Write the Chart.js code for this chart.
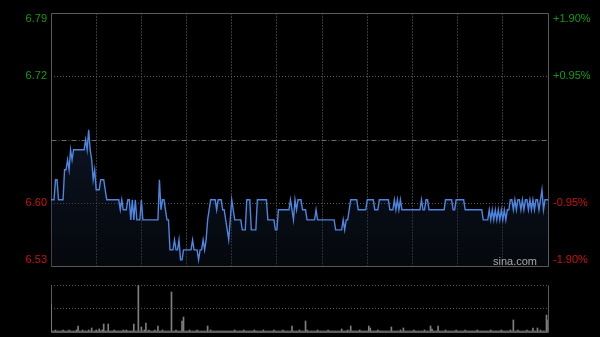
<!DOCTYPE html>
<html>
<head>
<meta charset="utf-8">
<script src="https://cdn.jsdelivr.net/npm/chart.js@4.4.0/dist/chart.umd.min.js"></script>
<style>
html, body { margin: 0; padding: 0; background: #000; }
#wrap { position: relative; width: 600px; height: 337px; background: #000; overflow: hidden; }
#priceBox { position: absolute; left: 0; top: 0; width: 600px; height: 278px; }
#volBox { position: absolute; left: 0; top: 275px; width: 600px; height: 62px; }
</style>
</head>
<body>
<div id="wrap">
  <div id="priceBox"><canvas id="priceChart"></canvas></div>
  <div id="volBox"><canvas id="volChart"></canvas></div>
</div>
<script>
// intraday minute data, HK session 09:30-12:00 / 13:01-16:00
const prevClose = 6.66;
const priceMin = 6.5335;
const priceMax = 6.7865;
const leftTickLabels = ['6.53', '6.60', '6.72', '6.79'];
const rightTickLabels = ['-1.90%', '-0.95%', '+0.95%', '+1.90%'];

const price = [
  6.60,6.60,6.60,6.62,6.62,6.60,6.60,6.60,6.60,6.63,
  6.63,6.64,6.63,6.65,6.64,6.65,6.65,6.65,6.65,6.65,
  6.65,6.65,6.65,6.66,6.65,6.67,6.65,6.64,6.62,6.63,
  6.61,6.61,6.61,6.62,6.62,6.62,6.61,6.60,6.60,6.60,
  6.60,6.60,6.60,6.60,6.60,6.60,6.59,6.60,6.59,6.59,
  6.59,6.60,6.60,6.58,6.60,6.58,6.60,6.58,6.58,6.58,
  6.60,6.58,6.58,6.58,6.58,6.58,6.58,6.58,6.58,6.58,
  6.58,6.58,6.62,6.59,6.60,6.60,6.59,6.58,6.58,6.55,
  6.55,6.55,6.56,6.55,6.55,6.56,6.54,6.54,6.55,6.55,
  6.55,6.55,6.55,6.55,6.56,6.55,6.55,6.55,6.54,6.55,
  6.55,6.56,6.55,6.56,6.58,6.59,6.60,6.60,6.60,6.60,
  6.59,6.60,6.60,6.60,6.59,6.59,6.58,6.57,6.56,6.58,
  6.60,6.59,6.58,6.58,6.58,6.58,6.58,6.57,6.57,6.57,
  6.60,6.60,6.60,6.57,6.57,6.57,6.57,6.60,6.60,6.60,
  6.60,6.60,6.60,6.60,6.58,6.58,6.58,6.58,6.58,6.57,
  6.57,6.59,6.59,6.59,6.59,6.59,6.59,6.59,6.59,6.60,
  6.59,6.58,6.60,6.59,6.60,6.60,6.60,6.59,6.59,6.59,
  6.58,6.58,6.58,6.58,6.58,6.58,6.59,6.58,6.58,6.58,
  6.58,6.58,6.58,6.58,6.58,6.58,6.58,6.58,6.58,6.57,
  6.57,6.57,6.57,6.57,6.58,6.57,6.58,6.58,6.59,6.60,
  6.60,6.60,6.60,6.60,6.59,6.59,6.59,6.59,6.59,6.59,
  6.60,6.60,6.60,6.60,6.60,6.59,6.59,6.59,6.60,6.60,
  6.60,6.60,6.60,6.60,6.60,6.59,6.59,6.59,6.60,6.59,
  6.60,6.59,6.60,6.59,6.59,6.59,6.59,6.59,6.59,6.59,
  6.59,6.59,6.59,6.59,6.59,6.59,6.60,6.59,6.59,6.60,
  6.60,6.59,6.59,6.59,6.59,6.59,6.59,6.59,6.59,6.59,
  6.59,6.59,6.60,6.60,6.60,6.60,6.60,6.59,6.59,6.60,
  6.60,6.60,6.60,6.60,6.60,6.59,6.59,6.59,6.59,6.59,
  6.59,6.59,6.59,6.59,6.59,6.59,6.59,6.58,6.58,6.58,
  6.58,6.59,6.58,6.59,6.58,6.59,6.58,6.59,6.58,6.59,
  6.58,6.59,6.58,6.59,6.59,6.60,6.60,6.59,6.60,6.59,
  6.60,6.60,6.59,6.60,6.59,6.60,6.60,6.59,6.60,6.59,
  6.60,6.59,6.60,6.60,6.59,6.60,6.61,6.59,6.60,6.60,
  6.60
];

// volume, 10k shares
const volume = [
  28,1,1,2,1,1,1,1,2,1,
  1,1,2,1,1,1,1,2,6,1,
  1,2,1,1,1,2,1,4,1,1,
  2,1,3,1,2,8,1,1,8,1,
  1,1,2,1,1,1,1,1,2,1,
  2,1,1,1,1,8,1,1,50,1,
  5,1,2,9,1,2,1,1,1,2,
  1,6,1,1,2,1,1,1,1,1,
  40,1,1,2,1,1,1,11,15,1,
  1,1,2,1,1,1,1,2,1,1,
  1,1,1,1,6,1,2,1,1,1,
  1,1,1,1,1,1,1,1,1,1,
  1,1,2,1,1,1,1,1,2,1,
  1,1,1,1,1,2,1,1,1,1,
  1,2,1,1,1,1,1,1,2,1,
  1,1,1,1,2,1,1,1,1,1,
  6,1,1,1,1,2,1,1,1,11,
  2,1,1,1,1,1,1,2,1,1,
  1,1,1,1,2,1,1,1,1,1,
  1,1,1,3,1,1,1,2,1,6,
  1,1,1,1,1,2,1,1,1,1,
  1,6,4,1,1,1,1,2,1,1,
  1,1,1,1,1,1,5,1,1,1,
  1,1,2,1,4,1,1,1,1,1,
  1,2,1,1,1,1,1,1,2,1,
  1,1,6,3,1,1,1,6,1,1,
  1,1,2,1,1,1,1,1,1,2,
  1,1,1,1,1,2,1,1,1,1,
  1,1,1,2,1,1,1,1,1,1,
  1,1,2,1,1,1,1,1,1,2,
  1,1,1,1,1,2,1,12,1,1,
  2,1,1,1,1,1,2,1,1,1,
  4,1,1,4,1,2,1,1,1,17,
  12
];
const volMax = 47;

// minute labels
const times = [];
function pushRange(h0, m0, h1, m1) {
  for (let t = h0 * 60 + m0; t <= h1 * 60 + m1; t++) {
    const h = Math.floor(t / 60), m = t % 60;
    times.push(String(h).padStart(2, '0') + ':' + String(m).padStart(2, '0'));
  }
}
pushRange(9, 30, 12, 0);
pushRange(13, 1, 16, 0);

const green = '#159a15';
const red = '#cc1212';
const font = { family: 'Liberation Sans, Arial, sans-serif', size: 11 };

const framePlugin = {
  id: 'frame',
  beforeDatasetsDraw(chart, args, opts) {
    const { ctx, chartArea: a } = chart;
    const l = Math.round(a.left) + 0.5, r = Math.round(a.right) + 0.5;
    const t = Math.round(a.top) + 0.5, b = Math.round(a.bottom) + 0.5;
    ctx.save();
    ctx.strokeStyle = opts.color;
    ctx.lineWidth = 1;
    ctx.beginPath();
    if (opts.top) { ctx.moveTo(l, t); ctx.lineTo(r, t); }
    ctx.moveTo(l, t); ctx.lineTo(l, b);
    ctx.moveTo(r, t); ctx.lineTo(r, b);
    ctx.moveTo(l, b); ctx.lineTo(r, b);
    ctx.stroke();
    if (opts.refLine) {
      const y = Math.round(chart.scales.y.getPixelForValue(prevClose)) + 0.5;
      ctx.setLineDash([5, 2, 1, 2]);
      ctx.strokeStyle = '#6a6a6a';
      ctx.beginPath();
      ctx.moveTo(l, y); ctx.lineTo(r, y);
      ctx.stroke();
    }
    ctx.restore();
  },
  afterDatasetsDraw(chart, args, opts) {
    if (!opts.brand) return;
    const { ctx, chartArea: a } = chart;
    ctx.save();
    ctx.fillStyle = '#a8a8a8';
    ctx.font = '11px "Liberation Sans", Arial, sans-serif';
    ctx.textAlign = 'right';
    ctx.textBaseline = 'middle';
    ctx.fillText(opts.brand, a.right - 11, a.bottom - 4);
    ctx.restore();
  }
};

function priceTicks(scale) {
  const q = (priceMax - prevClose) / 2;
  const inset = 0.006;
  scale.ticks = [priceMin + inset, prevClose - q, prevClose + q, priceMax - inset].map(v => ({ value: v }));
}

const gridIdx = [30, 60, 90, 120, 150, 180, 210, 240, 270, 300];

new Chart(document.getElementById('priceChart'), {
  type: 'line',
  data: {
    labels: times,
    datasets: [{
      data: price,
      borderColor: '#4d86e0',
      borderWidth: 1.4,
      pointRadius: 0,
      tension: 0,
      fill: 'start',
      backgroundColor: (c) => {
        const { ctx, chartArea } = c.chart;
        if (!chartArea) return 'rgba(0,0,0,0)';
        const g = ctx.createLinearGradient(0, chartArea.top + 110, 0, chartArea.bottom);
        g.addColorStop(0, 'rgba(28,48,80,0.45)');
        g.addColorStop(1, 'rgba(14,22,36,0.35)');
        return g;
      }
    }]
  },
  options: {
    responsive: true,
    maintainAspectRatio: false,
    animation: false,
    layout: { padding: { top: 13, bottom: 6, left: 0, right: 0 } },
    plugins: {
      legend: { display: false },
      tooltip: { enabled: false },
      frame: { color: '#5a5a5a', top: true, refLine: true, brand: 'sina.com' }
    },
    scales: {
      x: {
        type: 'category',
        offset: false,
        afterBuildTicks: (s) => { s.ticks = gridIdx.map(v => ({ value: v })); },
        afterFit: (s) => { s.height = 0; },
        ticks: { display: false },
        grid: { color: '#3a3a3a', lineWidth: 1, drawTicks: false },
        border: { display: false, dash: [2, 1] }
      },
      y: {
        position: 'left',
        min: priceMin,
        max: priceMax,
        afterBuildTicks: priceTicks,
        afterFit: (s) => { s.width = 51; },
        ticks: {
          padding: 4,
          font: font,
          color: (c) => c.index < 2 ? red : green,
          callback: (v, i) => leftTickLabels[i]
        },
        grid: {
          drawTicks: false,
          color: (c) => (c.index === 1 || c.index === 2) ? '#5a5a5a' : 'rgba(0,0,0,0)'
        },
        border: { display: false, dash: [1, 2] }
      },
      y2: {
        position: 'right',
        min: priceMin,
        max: priceMax,
        afterBuildTicks: priceTicks,
        afterFit: (s) => { s.width = 52; },
        ticks: {
          padding: 5,
          font: font,
          color: (c) => c.index < 2 ? red : green,
          callback: (v, i) => rightTickLabels[i]
        },
        grid: { display: false, drawTicks: false },
        border: { display: false }
      }
    }
  },
  plugins: [framePlugin]
});

new Chart(document.getElementById('volChart'), {
  type: 'bar',
  data: {
    labels: times,
    datasets: [{
      data: volume,
      backgroundColor: '#7e7e7e',
      barThickness: 1,
      borderWidth: 0
    }]
  },
  options: {
    responsive: true,
    maintainAspectRatio: false,
    animation: false,
    layout: { padding: { top: 10, bottom: 5, left: 0, right: 0 } },
    plugins: {
      legend: { display: false },
      tooltip: { enabled: false },
      frame: { color: '#5a5a5a', top: false, refLine: false, brand: '' }
    },
    scales: {
      x: {
        type: 'category',
        offset: false,
        display: false
      },
      y: {
        position: 'left',
        min: 0,
        max: volMax,
        afterBuildTicks: (s) => { s.ticks = [0, volMax / 2, volMax].map(v => ({ value: v })); },
        afterFit: (s) => { s.width = 51; },
        ticks: { display: false },
        grid: {
          drawTicks: false,
          color: (c) => c.index > 0 ? '#5a5a5a' : 'rgba(0,0,0,0)'
        },
        border: { display: false, dash: [1, 2] }
      },
      y2: {
        position: 'right',
        min: 0,
        max: volMax,
        afterFit: (s) => { s.width = 52; },
        ticks: { display: false },
        grid: { display: false, drawTicks: false },
        border: { display: false }
      }
    }
  },
  plugins: [framePlugin]
});
</script>
</body>
</html>
